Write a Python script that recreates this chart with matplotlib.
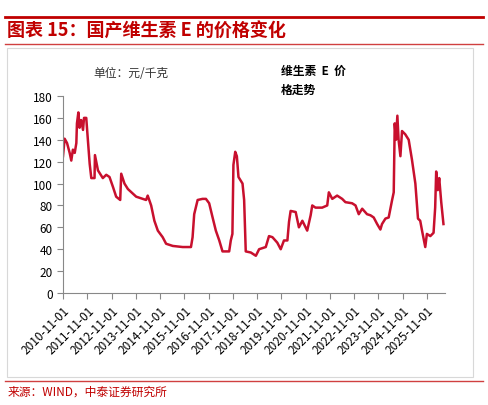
import numpy as np
import pandas as pd
import matplotlib
matplotlib.use("Agg")
import matplotlib.pyplot as plt
import matplotlib.dates as mdates

plt.rcParams['font.family'] = ['Noto Sans CJK SC', 'DejaVu Sans']

# months since 2010-11-01, and price (yuan/kg)
months = [0, 0.8, 2, 3.3, 4.1, 4.9, 5.8, 6.6, 6.9, 7.6, 8.2, 9, 9.9, 10.4, 11.5, 12.3, 13.2, 14,
          15.6, 15.8, 17.3, 19.7, 21.4, 23, 24.7, 26.3, 28.3, 28.8, 30.4, 32.1, 36.2, 41.1, 41.9,
          43.6, 45.2, 46.9, 49.3, 51, 54.3, 59.2, 63.3, 64.1, 64.9, 66.6, 69, 70.7, 72.3, 74,
          75.6, 77.3, 78.9, 82.2, 83, 83.8, 84.3, 85.2, 86, 86.8, 88.8, 89.6, 90.4, 92.9, 95.4,
          97, 100.3, 101.9, 103.6, 106, 107.7, 109.3, 111, 111.8, 112.6, 115.1, 116.7, 118.4,
          120.8, 122.5, 123.3, 124.9, 128.2, 130.7, 131.5, 133.2, 135.6, 138.1, 139.7, 143,
          144.7, 146.3, 148, 150.4, 152.1, 153.7, 155.4, 157, 157.8, 159.5, 161.1, 162.8,
          163.6, 164.1, 164.7, 165.4, 166, 166.9, 167.7, 169.3, 171, 172.6, 174.3, 175.6,
          176.7, 177.6, 179.2, 180, 181.7, 183.3, 184.1, 184.6, 185.4, 186.1, 187.1, 188.2]
price = [125, 141, 137, 128, 121, 131, 128, 137, 155, 165, 151, 158, 149, 160, 160, 140, 118, 105,
         105, 126, 112, 105, 108, 106, 97, 88, 85, 109, 100, 95, 88, 85, 89,
         80, 66, 57, 51, 45, 43, 42, 42, 51, 72, 85, 86, 86, 82, 69,
         57, 48, 38, 38, 48, 54, 117, 129, 125, 106, 100, 85, 38, 37, 34,
         40, 42, 52, 51, 46, 40, 48, 48, 65, 75, 74, 60, 66,
         57, 71, 80, 78, 78, 80, 92, 86, 89, 86, 83, 82,
         80, 72, 77, 72, 71, 69, 63, 58, 63, 68, 69, 85,
         92, 155, 140, 162, 140, 125, 148, 145, 140, 122, 100, 68,
         66, 57, 42, 54, 52, 55, 78, 111, 94, 105, 83, 63]

start = pd.Timestamp('2010-11-01')
dates = [start + pd.Timedelta(days=m * 30.44) for m in months]
ticks = pd.date_range('2010-11-01', '2025-11-01', freq='12MS')

fig = plt.figure(figsize=(4.88, 4.06), dpi=100)
fig.add_artist(plt.Line2D([0.01, 0.99], [0.955, 0.955], color='#c00000', lw=2))
fig.add_artist(plt.Line2D([0.01, 0.99], [0.888, 0.888], color='#d04040', lw=1))
fig.add_artist(plt.Rectangle((0.015, 0.07), 0.955, 0.81, fill=False,
                             edgecolor='#d8d8d8', lw=0.8))
fig.text(0.015, 0.922, '图表 15：国产维生素 E 的价格变化', color='#c00000', fontsize=13,
         fontweight='bold', style='italic', va='center')
fig.add_artist(plt.Line2D([0.01, 0.99], [0.058, 0.058], color='#d04040', lw=1))
fig.text(0.015, 0.035, '来源：WIND，中泰证券研究所', color='#c00000', fontsize=8.5, va='center')

ax = fig.add_axes([63 / 488, 112 / 406, 382 / 488, 197 / 406])
ax.plot(dates, price, color='#c8102e', lw=1.8)
ax.set_ylim(0, 180)
ax.set_yticks(range(0, 181, 20))
ax.set_xlim(pd.Timestamp('2010-11-01'), pd.Timestamp('2026-08-01'))
ax.set_xticks(ticks)
ax.xaxis.set_major_formatter(mdates.DateFormatter('%Y-%m-%d'))
for lbl in ax.get_xticklabels():
    lbl.set_rotation(45)
    lbl.set_ha('right')
    lbl.set_rotation_mode('anchor')
ax.tick_params(labelsize=8.5, color='#888888', length=4)
for s in ['top', 'right']:
    ax.spines[s].set_visible(False)
for s in ['left', 'bottom']:
    ax.spines[s].set_color('#888888')
ax.text(0.08, 1.1, '单位：元/千克', transform=ax.transAxes, fontsize=8.5, color='#333333')
ax.text(0.57, 1.08, '维生素  E  价\n格走势', transform=ax.transAxes, fontsize=8.5,
        fontweight='bold', va='center', linespacing=1.6)

fig.savefig('out.png', dpi=100)
